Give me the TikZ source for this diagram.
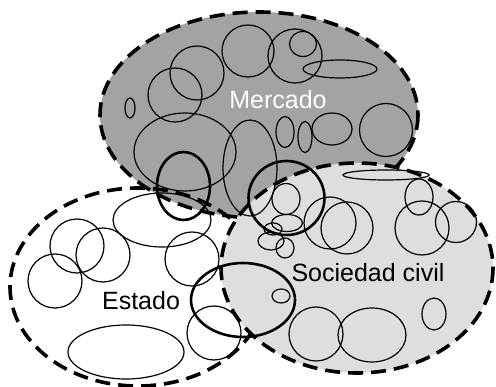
\documentclass[tikz,border=0pt]{standalone}
\usepackage{fontspec}
\setmainfont{Liberation Sans}
\definecolor{mercadogray}{gray}{0.64}
\definecolor{civilgray}{gray}{0.87}

\begin{document}
\begin{tikzpicture}[x=1pt, y=-1pt,
        region/.style={line width=3.6pt, dash pattern=on 15pt off 8pt},
        actor/.style={line width=1.2pt},
        bridge/.style={line width=2.6pt},
        every node/.style={font=\fontsize{25}{30}\selectfont, inner sep=0pt}]
            \useasboundingbox (0,0) rectangle (496,387);

            % Big regions (Estado under Mercado, Sociedad civil on top)
            \fill[white] (138,287) ellipse [x radius=128, y radius=99];
            \filldraw[fill=mercadogray, region] (259,115) ellipse [x radius=159, y radius=103];
            \draw[region] (138,287) ellipse [x radius=128, y radius=99];
            \filldraw[fill=civilgray, region] (357,268) ellipse [x radius=136, y radius=105];

            % Actors inside Mercado (Top)
            \draw[actor] (248,51) circle [radius=26];
            \draw[actor] (295,56) circle [radius=27];
            \draw[actor] (303,44) ellipse [x radius=13.5, y radius=12.5];
            \draw[actor] (340,69) ellipse [x radius=37, y radius=9];
            \draw[actor] (197,73) circle [radius=27];
            \draw[actor] (175,95) circle [radius=27];
            \draw[actor] (130,108) ellipse [x radius=5, y radius=10];
            \draw[actor] (185,152) ellipse [x radius=51, y radius=39];
            \draw[actor] (250,168) ellipse [x radius=27, y radius=48];
            \draw[actor] (285,132) ellipse [x radius=9, y radius=15.5];
            \draw[actor] (305,137) ellipse [x radius=7, y radius=15.5];
            \draw[actor] (332,129) ellipse [x radius=20, y radius=16];
            \draw[actor] (386,130) circle [radius=26.5];

            % Actors inside Sociedad civil (Right)
            \draw[actor] (386,175) ellipse [x radius=43, y radius=5];
            \draw[actor] (286,199) ellipse [x radius=14, y radius=15.5];
            \draw[actor] (287,223) ellipse [x radius=15.5, y radius=8.5];
            \draw[actor] (273,229) ellipse [x radius=9, y radius=6];
            \draw[actor] (271,241) ellipse [x radius=13, y radius=9];
            \draw[actor] (285,248) ellipse [x radius=9, y radius=10];
            \draw[actor] (330,223) circle [radius=26];
            \draw[actor] (347,228) circle [radius=26];
            \draw[actor] (419,197) ellipse [x radius=14, y radius=18];
            \draw[actor] (422,228) circle [radius=27];
            \draw[actor] (456,222) circle [radius=20.5];
            \draw[actor] (281,296) ellipse [x radius=9, y radius=7];
            \draw[actor] (316,334) circle [radius=27];
            \draw[actor] (372,335) ellipse [x radius=34, y radius=27];
            \draw[actor] (434,314) ellipse [x radius=12, y radius=16];

            % Actors inside Estado (Left)
            \draw[actor] (162,220) ellipse [x radius=49, y radius=27];
            \draw[actor] (77,246) circle [radius=27];
            \draw[actor] (103,255) circle [radius=27];
            \draw[actor] (55,281) circle [radius=27];
            \draw[actor] (192,259) circle [radius=27];
            \draw[actor] (214,333) circle [radius=27];
            \draw[actor] (126,352) ellipse [x radius=58, y radius=27];

            % Actors on the borders
            \draw[bridge] (183.5,186) ellipse [x radius=26.5, y radius=34];
            \draw[bridge] (286.5,198) ellipse [x radius=38, y radius=37];
            \draw[bridge] (243,300) ellipse [x radius=52, y radius=37];

            % Labels
            \node[text=white] (mercado) at (278,100) {Mercado};
            \node (estado) at (141,301) {Estado};
            \node (sociedad) at (368,273) {Sociedad civil};
        \end{tikzpicture}
\end{document}
